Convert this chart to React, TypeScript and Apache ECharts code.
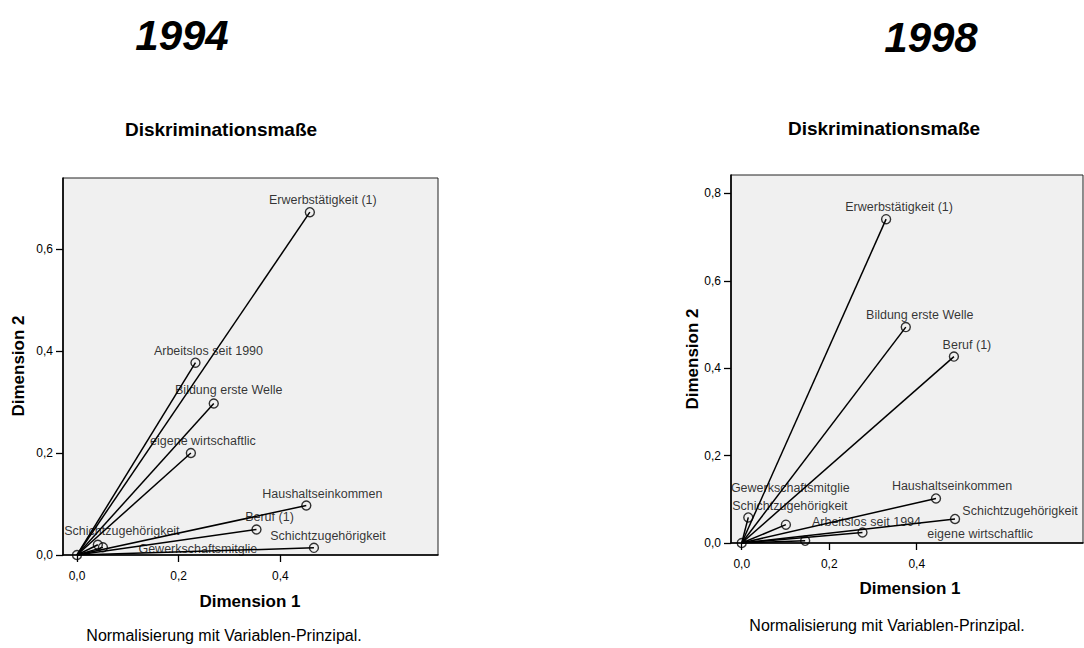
import React, { useEffect, useRef } from "react";
import * as echarts from "echarts";

const FONT = "'Liberation Sans', Arial, Helvetica, sans-serif";

// ---- Data 1994 ----
const variables1994 = [
  "Erwerbstätigkeit (1)",
  "Arbeitslos seit 1990",
  "Bildung erste Welle",
  "eigene wirtschaftlic",
  "Haushaltseinkommen",
  "Beruf (1)",
  "Schichtzugehörigkeit",
  "Schichtzugehörigkeit",
  "Gewerkschaftsmitglie",
  "",
];
const dim1_1994 = [0.458, 0.233, 0.269, 0.224, 0.451, 0.353, 0.466, 0.051, 0.041, 0.0];
const dim2_1994 = [0.672, 0.377, 0.297, 0.2, 0.097, 0.05, 0.014, 0.015, 0.02, 0.0];

// ---- Data 1998 ----
const variables1998 = [
  "Erwerbstätigkeit (1)",
  "Bildung erste Welle",
  "Beruf (1)",
  "Haushaltseinkommen",
  "Schichtzugehörigkeit",
  "Arbeitslos seit 1994",
  "Gewerkschaftsmitglie",
  "Schichtzugehörigkeit",
  "eigene wirtschaftlic",
  "",
];
const dim1_1998 = [0.33, 0.375, 0.485, 0.444, 0.4875, 0.276, 0.015, 0.101, 0.145, 0.0];
const dim2_1998 = [0.741, 0.494, 0.4265, 0.102, 0.055, 0.024, 0.0585, 0.042, 0.005, 0.0];

const xTicks = [0, 0.2, 0.4];
const yTicks1994 = [0, 0.2, 0.4, 0.6];
const yTicks1998 = [0, 0.2, 0.4, 0.6, 0.8];

// label placement (pixel offsets of label centre from point)
const labelOffset1994 = [
  [13, -12], [13, -12], [15, -13], [12, -12], [16, -12], [13, -12], [14, -12], [19, -16], [100, 4], [0, 0],
];
const labelOffset1998 = [
  [13, -12], [14, -12], [13, -12], [16, -12], [65, -8], [4, -11], [42, -29], [4, -19], [175, -7], [0, 0],
];

const fmt = (v: number) => v.toFixed(1).replace(".", ",");

function buildSeries(
  names: string[],
  xs: number[],
  ys: number[],
  offsets: number[][],
  idx: number
) {
  return [
    {
      type: "lines",
      coordinateSystem: "cartesian2d",
      xAxisIndex: idx,
      yAxisIndex: idx,
      silent: true,
      lineStyle: { color: "#000", width: 1.5, opacity: 1 },
      data: names.map((_, i) => ({ coords: [[0, 0], [xs[i], ys[i]]] })),
      z: 2,
    },
    {
      type: "scatter",
      xAxisIndex: idx,
      yAxisIndex: idx,
      symbol: "circle",
      symbolSize: 9,
      itemStyle: { color: "rgba(0,0,0,0)", borderColor: "#000", borderWidth: 1.4 },
      z: 3,
      data: names.map((n, i) => ({
        value: [xs[i], ys[i]],
        name: n,
        label: {
          show: n !== "",
          position: "inside",
          offset: offsets[i],
          formatter: n,
          color: "#000",
          fontSize: 12.5,
          fontFamily: FONT,
          textBorderWidth: 0,
        },
      })),
    },
  ];
}

function axisCommon(ticks: number[], isX: boolean) {
  return {
    type: "value",
    axisLine: { show: true, onZero: false, lineStyle: { color: "#000", width: 1.6 } },
    axisTick: {
      show: true,
      length: 7,
      customValues: ticks,
      lineStyle: { color: "#000", width: 1.3 },
    },
    axisLabel: {
      customValues: ticks,
      formatter: fmt,
      fontSize: 12,
      color: "#000",
      fontFamily: FONT,
      margin: isX ? 15 : 10,
    },
    splitLine: { show: false },
  };
}

export default function App() {
  const ref = useRef<HTMLDivElement>(null);
  useEffect(() => {
    if (!ref.current) return;
    const chart = echarts.init(ref.current, undefined, { renderer: "svg" });
    const txt = (
      text: string,
      x: number,
      y: number,
      size: number,
      weight: string,
      style = "normal",
      rotation = 0
    ) => ({
      type: "text",
      x,
      y,
      rotation,
      style: {
        text,
        fontSize: size,
        fontWeight: weight,
        fontStyle: style,
        fontFamily: FONT,
        fill: "#000",
        textAlign: "center",
        textVerticalAlign: "middle",
      },
    });
    const option: any = {
      animation: false,
      backgroundColor: "#fff",
      textStyle: { fontFamily: FONT },
      grid: [
        {
          left: 63,
          top: 178,
          width: 375,
          height: 377,
          show: true,
          backgroundColor: "#f0f0f0",
          borderColor: "#222",
          borderWidth: 1,
        },
        {
          left: 731,
          top: 175,
          width: 352,
          height: 368,
          show: true,
          backgroundColor: "#f0f0f0",
          borderColor: "#222",
          borderWidth: 1,
        },
      ],
      xAxis: [
        { ...axisCommon(xTicks, true), gridIndex: 0, min: -0.0275, max: 0.71 },
        { ...axisCommon(xTicks, true), gridIndex: 1, min: -0.0245, max: 0.78 },
      ],
      yAxis: [
        { ...axisCommon(yTicks1994, false), gridIndex: 0, min: 0, max: 0.739 },
        { ...axisCommon(yTicks1998, false), gridIndex: 1, min: 0, max: 0.842 },
      ],
      series: [
        ...buildSeries(variables1994, dim1_1994, dim2_1994, labelOffset1994, 0),
        ...buildSeries(variables1998, dim1_1998, dim2_1998, labelOffset1998, 1),
      ],
      graphic: [
        txt("1994", 182, 35, 42, "bold", "italic"),
        txt("1998", 931, 37, 42, "bold", "italic"),
        txt("Diskriminationsmaße", 221, 129, 19, "bold"),
        txt("Diskriminationsmaße", 884, 128, 19, "bold"),
        txt("Dimension 1", 250, 601, 17, "bold"),
        txt("Dimension 1", 910, 588, 17, "bold"),
        txt("Dimension 2", 18, 366, 17, "bold", "normal", Math.PI / 2),
        txt("Dimension 2", 692, 359, 17, "bold", "normal", Math.PI / 2),
        txt("Normalisierung mit Variablen-Prinzipal.", 224, 635, 16, "normal"),
        txt("Normalisierung mit Variablen-Prinzipal.", 887, 625, 16, "normal"),
      ],
    };
    chart.setOption(option);
    return () => chart.dispose();
  }, []);
  return (
    <div
      ref={ref}
      style={{ position: "fixed", left: 0, top: 0, width: 1084, height: 648, background: "#fff" }}
    />
  );
}
